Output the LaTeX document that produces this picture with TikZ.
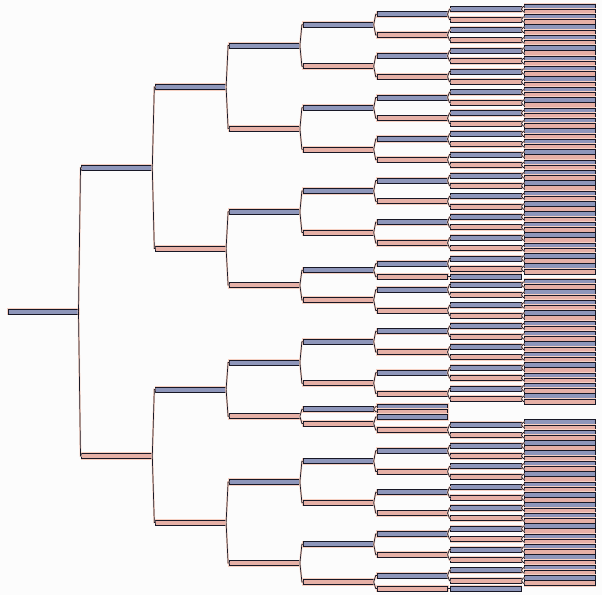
\documentclass[tikz,border=0pt]{standalone}
\usepackage{tikz}

\definecolor{topc}{RGB}{142,150,186}
\definecolor{botc}{RGB}{230,176,166}
\definecolor{halo}{RGB}{246,208,194}
\definecolor{edge}{RGB}{24,24,38}
\definecolor{paper}{RGB}{252,252,252}

\tikzset{
  bar/.style={draw=edge, line width=0.75pt, anchor=west, minimum width=70.5pt,
    minimum height=5pt, inner sep=0pt, outer sep=0pt,
    preaction={draw=halo, line width=2.2pt}},
  link/.style={draw=edge, line width=0.7pt, preaction={draw=halo, line width=1.8pt},
    to path={(\tikztostart) -- ([xshift=2pt]\tikztostart |- \tikztotarget) -- (\tikztotarget)}}
}

% full subtree: name, parent, level, first slot, leaves, fill
\newcommand\branchout[6]{%
  \pgfmathsetmacro\bx{8+73.8*#3}%
  \pgfmathsetmacro\by{#4+(#5-1)/2}%
  \node[bar, fill=#6] (#1) at (\bx,\by) {};
  \draw[link] (#2.east) to (#1.west);
  \ifnum#5>1
    \pgfmathtruncatemacro\halfn{#5/2}%
    \pgfmathtruncatemacro\secslot{#4+#5/2}%
    \pgfmathtruncatemacro\nxt{#3+1}%
    \edef\kids{\noexpand\branchout{#1a}{#1}{\nxt}{#4}{\halfn}{topc}%
      \noexpand\branchout{#1b}{#1}{\nxt}{\secslot}{\halfn}{botc}}%
    \begingroup\kids\endgroup
  \fi}

\begin{document}
\begin{tikzpicture}[x=1pt, y=-5.196pt]
\fill[paper] (0,-1.251) rectangle (602,113.26);
\useasboundingbox (0,-1.251) rectangle (602,113.26);

% upper levels
\node[bar, fill=topc] (root) at (8, 58.766) {};
\node[bar, fill=topc] (A) at (81.8, 31.031) {};
\node[bar, fill=botc] (B) at (81.8, 86.5) {};
\node[bar, fill=topc] (A1) at (155.6, 15.5) {};
\node[bar, fill=botc] (A2) at (155.6, 46.563) {};
\node[bar, fill=topc] (B1) at (155.6, 73.688) {};
\node[bar, fill=botc] (B2) at (155.6, 99.313) {};
\node[bar, fill=topc] (A1a) at (229.4, 7.5) {};
\node[bar, fill=botc] (A1b) at (229.4, 23.5) {};
\node[bar, fill=topc] (A2a) at (229.4, 39.5) {};
\node[bar, fill=botc] (A2b) at (229.4, 53.625) {};
\node[bar, fill=topc] (B1a) at (229.4, 68.5) {};
\node[bar, fill=botc] (B1b) at (229.4, 78.875) {};
\node[bar, fill=topc] (B2a) at (229.4, 91.5) {};
\node[bar, fill=botc] (B2b) at (229.4, 107.125) {};
\foreach \p/\c in {root/A, root/B, A/A1, A/A2, B/B1, B/B2,
    A1/A1a, A1/A1b, A2/A2a, A2/A2b, B1/B1a, B1/B1b, B2/B2a, B2/B2b}
  \draw[link] (\p.east) to (\c.west);

% full subtrees
\foreach \n/\p/\a/\c in {s1/A1a/0/topc, s2/A1a/8/botc, s3/A1b/16/topc, s4/A1b/24/botc,
    s5/A2a/32/topc, s6/A2a/40/botc, s8/A2b/53/botc, s9/B1a/61/topc, s10/B1a/69/botc,
    s13/B2a/84/topc, s14/B2a/92/botc, s15/B2b/100/topc}
  \branchout{\n}{\p}{4}{\a}{8}{\c};

% short branches
\node[bar, fill=topc] (s7) at (303.2, 50.75) {};
\draw[link] (A2b.east) to (s7.west);
\branchout{s7a}{s7}{5}{48}{4}{topc}
\node[bar, fill=botc] (s7b) at (377, 52) {};
\node[bar, fill=topc] (s7ba) at (450.8, 52) {};
\draw[link] (s7.east) to (s7b.west);
\draw[link] (s7b.east) to (s7ba.west);

\node[bar, fill=topc] (s11) at (303.2, 77.5) {};
\draw[link] (B1b.east) to (s11.west);
\branchout{s11a}{s11}{5}{77}{1}{topc}
\branchout{s11b}{s11}{5}{78}{1}{botc}
\node[bar, fill=botc] (s12) at (303.2, 80.25) {};
\draw[link] (B1b.east) to (s12.west);
\branchout{s12a}{s12}{5}{79}{1}{topc}
\branchout{s12b}{s12}{5}{80}{4}{botc}

\node[bar, fill=botc] (s16) at (303.2, 110.75) {};
\draw[link] (B2b.east) to (s16.west);
\branchout{s16a}{s16}{5}{108}{4}{topc}
\node[bar, fill=botc] (s16b) at (377, 112) {};
\node[bar, fill=topc] (s16ba) at (450.8, 112) {};
\draw[link] (s16.east) to (s16b.west);
\draw[link] (s16b.east) to (s16ba.west);
\end{tikzpicture}
\end{document}
